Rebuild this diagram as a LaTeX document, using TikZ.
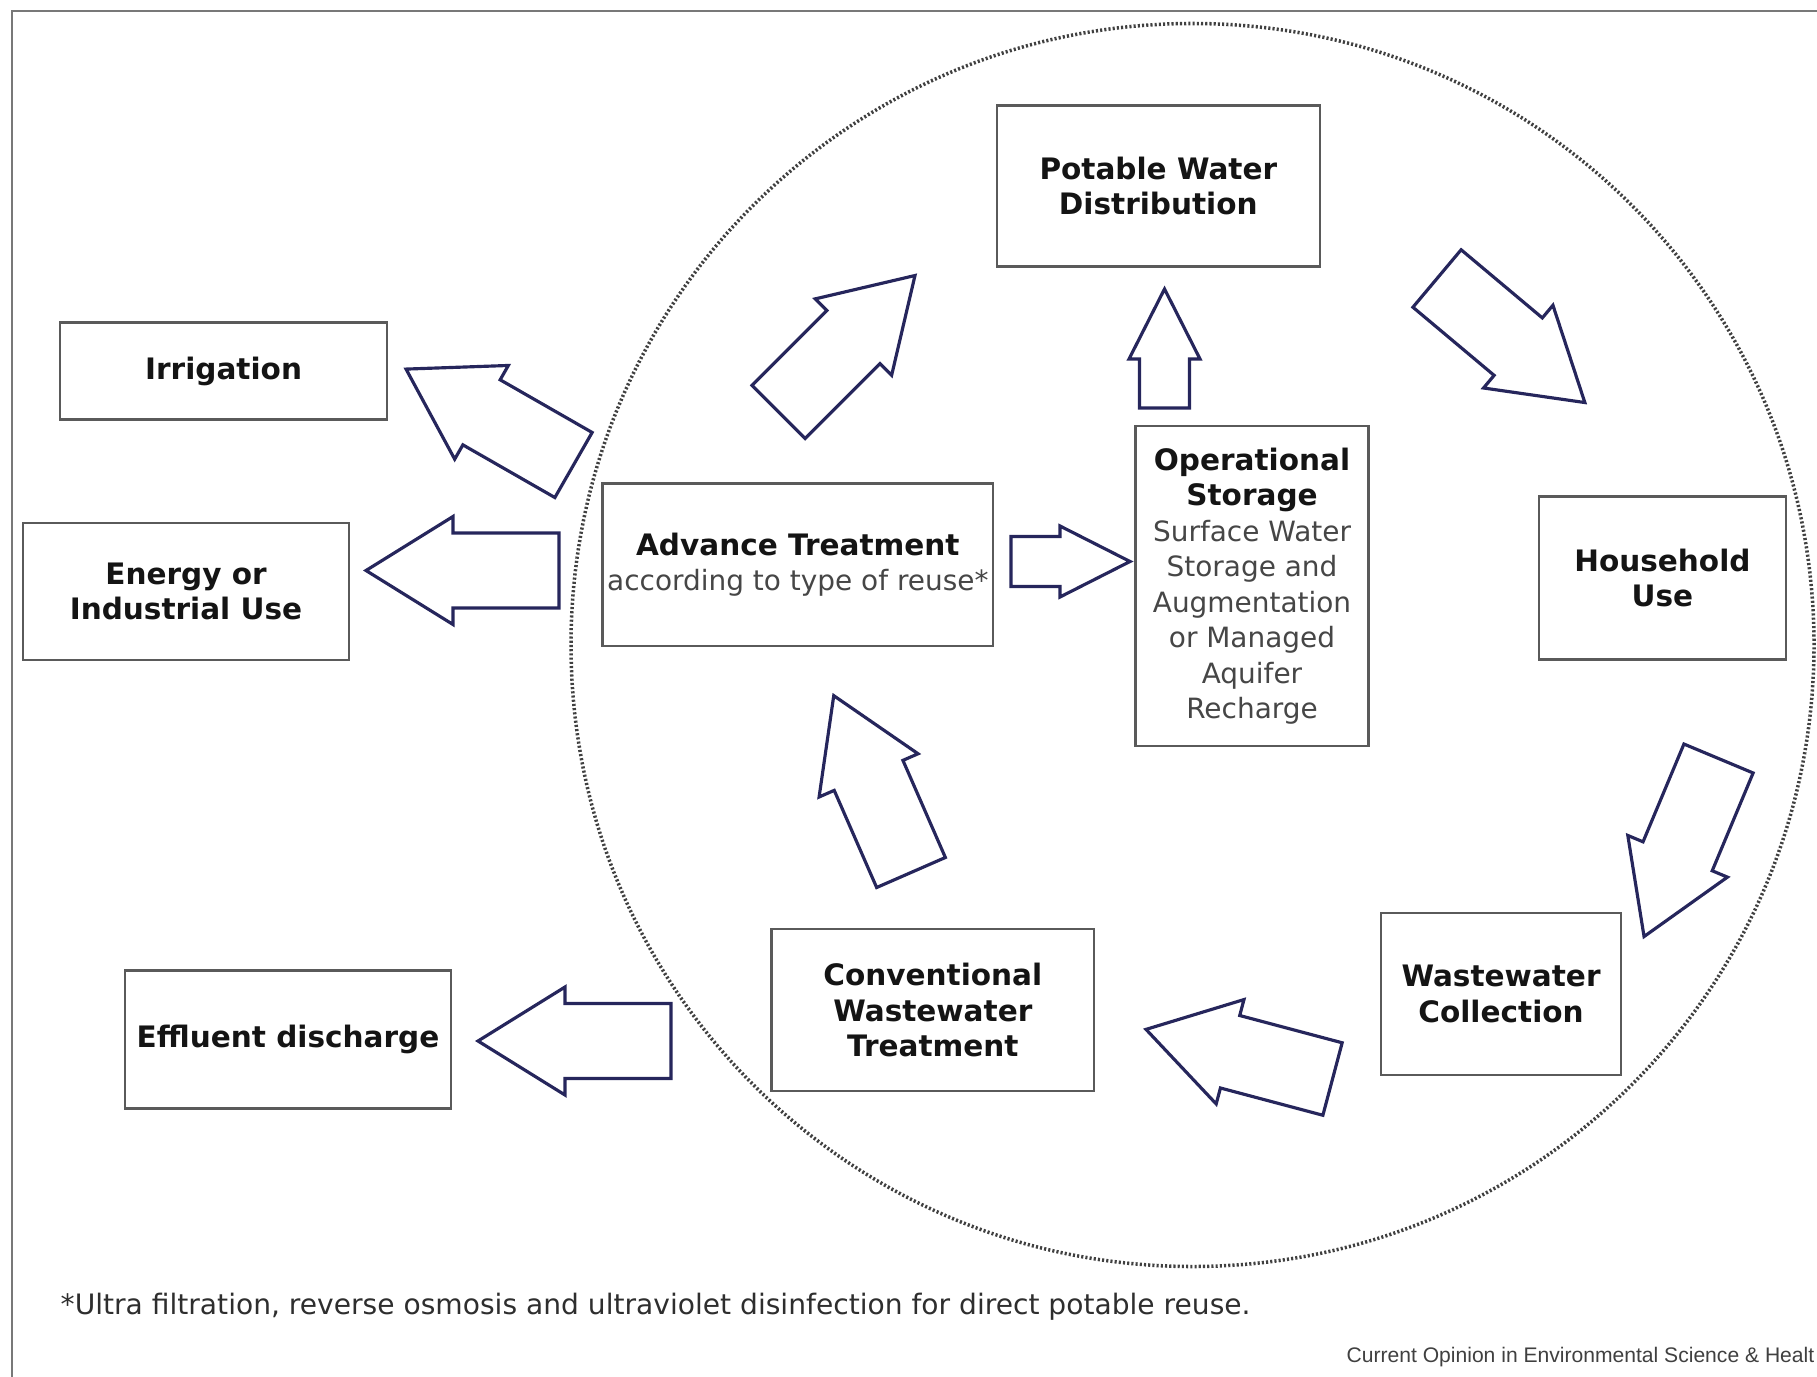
\documentclass[tikz,border=0pt]{standalone}
\usepackage{fontspec}
\setmainfont{DejaVu Sans}
\newfontfamily\creditfont{Liberation Sans}
\usetikzlibrary{positioning}
\definecolor{arrowblue}{RGB}{38, 38, 92}
\definecolor{boxgray}{RGB}{90, 90, 90}
\definecolor{lightgray}{RGB}{70, 70, 70}
\definecolor{framegray}{RGB}{120, 120, 120}
\newcommand{\lighttext}[1]{{\fontsize{7.95}{9.9}\selectfont\mdseries\color{lightgray}#1}}
\tikzset{box/.style 2 args = {draw = boxgray, line width = 0.75pt, fill = white,
                              minimum width = #1cm, minimum height = #2cm,
                              inner sep = 0, align = center, text = black!92,
                              font = \fontsize{8.4}{10.1}\selectfont\bfseries}}
\tikzset{flowarrow/.style = {draw = arrowblue, line width = 0.9pt, fill = white, line join = miter}}
\tikzset{pics/bigarrow/.style = {code = {
  \draw [flowarrow] (0, -0.375) -- (1.06, -0.375) -- (1.06, -0.54) -- (1.93, 0)
                    -- (1.06, 0.54) -- (1.06, 0.375) -- (0, 0.375) -- cycle;}}}
\tikzset{pics/smallarrow/.style = {code = {
  \draw [flowarrow] (0, -0.25) -- (0.49, -0.25) -- (0.49, -0.355) -- (1.19, 0)
                    -- (0.49, 0.355) -- (0.49, 0.25) -- (0, 0.25) -- cycle;}}}
\tikzset{ring/.style = {draw = black!75, line width = 1pt, dash pattern = on 0.6pt off 0.6pt}}

\begin{document}
\begin{tikzpicture}
      \useasboundingbox (0, 0) rectangle (18.17, 13.76);
      \clip (0, 0) rectangle (18.17, 13.76);
      \draw [framegray, line width = 0.6pt] (0.116, -1) |- (19, 13.65);

      \draw [ring] (11.925, 7.31) circle (6.215);

      \node [box = {3.23}{1.61}] (potable) at (11.583, 11.90) {Potable Water\\Distribution};
      \node [box = {3.27}{0.97}] (irrigation) at (2.236, 10.05) {Irrigation};
      \node [box = {3.26}{1.37}] (energy) at (1.86, 7.845) {Energy or\\Industrial Use};
      \node [box = {3.90}{1.625}] (advance) at (7.978, 8.112)
            {Advance Treatment\\\lighttext{according to type of reuse*}};
      \node [box = {2.33}{3.20}] (storage) at (12.52, 7.90)
            {Operational\\Storage\\\lighttext{Surface Water}\\\lighttext{Storage and}\\
             \lighttext{Augmentation}\\\lighttext{or Managed}\\\lighttext{Aquifer}\\\lighttext{Recharge}};
      \node [box = {2.47}{1.63}] (household) at (16.624, 7.98) {Household\\Use};
      \node [box = {2.40}{1.62}] (collection) at (15.01, 3.82) {Wastewater\\Collection};
      \node [box = {3.22}{1.62}] (conventional) at (9.328, 3.66) {Conventional\\Wastewater\\Treatment};
      \node [box = {3.26}{1.376}] (effluent) at (2.88, 3.364) {Effluent discharge};

      \coordinate (to-irrigation) at (5.735, 9.11);
      \coordinate (to-energy) at (5.59, 8.055);
      \coordinate (to-potable) at (7.785, 9.64);
      \coordinate (to-household) at (14.37, 10.975);
      \coordinate (to-collection) at (17.185, 6.175);
      \coordinate (to-conventional) at (13.325, 2.97);
      \coordinate (to-advance) at (9.11, 5.035);
      \coordinate (to-effluent) at (6.71, 3.35);
      \coordinate (up-storage) at (11.645, 9.68);
      \coordinate (to-storage) at (10.11, 8.145);

      \pic [rotate = 150.2] at (to-irrigation) {bigarrow};
      \pic [rotate = 180] at (to-energy) {bigarrow};
      \pic [rotate = 45] at (to-potable) {bigarrow};
      \pic [rotate = -40] at (to-household) {bigarrow};
      \pic [rotate = -112.7] at (to-collection) {bigarrow};
      \pic [rotate = 165.1] at (to-conventional) {bigarrow};
      \pic [rotate = 113.6] at (to-advance) {bigarrow};
      \pic [rotate = 180] at (to-effluent) {bigarrow};
      \pic [rotate = 90] at (up-storage) {smallarrow};
      \pic at (to-storage) {smallarrow};

      \node [anchor = west, inner sep = 0, text = black!82, font = \fontsize{8}{9.6}\selectfont] (footnote) at (0.60, 0.69)
            {*Ultra filtration, reverse osmosis and ultraviolet disinfection for direct potable reuse.};
      \node [anchor = east, inner sep = 0, text = black!75, font = \creditfont\fontsize{6}{7}\selectfont] (credit) at (18.15, 0.19)
            {Current Opinion in Environmental Science \& Healt};
    \end{tikzpicture}
\end{document}
